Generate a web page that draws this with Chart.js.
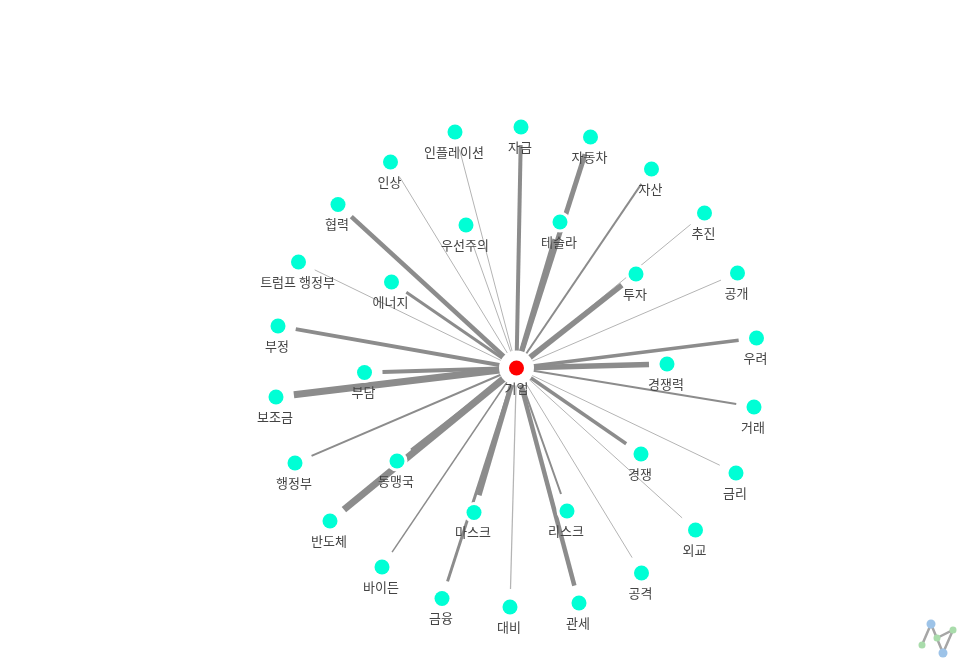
<!DOCTYPE html>
<html>
<head>
<meta charset="utf-8">
<title>기업 network</title>
<script src="https://cdn.jsdelivr.net/npm/chart.js@4/dist/chart.umd.min.js"></script>
<style>
  html, body { margin: 0; padding: 0; background: #fff; overflow: hidden; }
  canvas { display: block; }
</style>
</head>
<body>
<canvas id="networkChart" width="966" height="667"></canvas>
<script>
const centerLabel = "기업";
const centerX = 516.5;
const centerY = 368;

const nodeLabels = ["인플레이션", "자금", "자동차", "자산", "추진", "공개", "우려", "경쟁력", "거래", "금리", "경쟁", "외교", "공격", "리스크", "관세", "대비", "금융", "마스크", "바이든", "동맹국", "반도체", "행정부", "보조금", "부담", "부정", "에너지", "트럼프 행정부", "협력", "인상", "우선주의", "테슬라", "투자"];
const nodeX = [455, 521, 590.5, 651.5, 704.5, 737.5, 756.5, 667, 754, 736, 641, 695.5, 641.5, 567, 579, 510, 442, 474, 382, 397, 330, 295, 276, 364.5, 278, 391.5, 298.5, 338, 390.5, 466, 560, 636];
const nodeY = [132, 127, 137, 169, 213, 273, 338, 364, 407, 473, 454, 530, 573, 511, 603, 607, 598.5, 512.5, 567, 461, 521, 463, 397, 372.5, 326, 282, 262, 204.5, 162, 225, 222, 274];
const edgeWeights = [2, 8, 10, 4, 2, 2, 7, 11, 4, 2, 7, 2, 2, 4, 9, 2.5, 6, 10, 3, 6, 14, 4, 14, 8, 8, 6, 2, 9, 2, 2, 10, 11];

const logoX = [922, 931, 943, 953, 937];
const logoY = [645, 624, 653, 630, 638];

const EDGE_GAP = 18;

// edges stop a little before the outer node
function edgeEnd(i) {
  const dx = nodeX[i] - centerX;
  const dy = nodeY[i] - centerY;
  const len = Math.sqrt(dx * dx + dy * dy);
  return {
    x: nodeX[i] - dx / len * EDGE_GAP,
    y: nodeY[i] - dy / len * EDGE_GAP
  };
}

const allPoints = nodeX.map((x, i) => ({ x: x, y: nodeY[i] }));
const datasets = [];

datasets.push({
  label: "nodes",
  order: 0,
  data: [...allPoints, { x: centerX, y: centerY }],
  pointRadius: 7.5,
  pointBackgroundColor: ctx => ctx.dataIndex === nodeX.length ? "#ff0000" : "#00ffd5",
  pointBorderWidth: 0,
  showLine: false
});

datasets.push({
  label: "halos",
  order: 1,
  data: [...allPoints, { x: centerX, y: centerY }],
  pointRadius: ctx => ctx.dataIndex === nodeX.length ? 17.5 : 10.5,
  pointBackgroundColor: "#ffffff",
  pointBorderWidth: 0,
  showLine: false
});

nodeLabels.forEach((name, i) => {
  const thin = edgeWeights[i] <= 2.5;
  datasets.push({
    label: name,
    // thin pale edges go under the thick ones
    order: thin ? 3 : 2,
    data: [{ x: centerX, y: centerY }, edgeEnd(i)],
    showLine: true,
    borderColor: thin ? "#b4b4b4" : "#8c8c8c",
    borderWidth: edgeWeights[i] / 2,
    pointRadius: 0
  });
});

// little logo in the corner
datasets.push({
  label: "logo",
  order: 0,
  data: logoX.map((x, i) => ({ x: x, y: logoY[i] })),
  showLine: true,
  borderColor: "#a6a6a6",
  borderWidth: 2.5,
  pointRadius: ctx => ctx.dataIndex === 1 || ctx.dataIndex === 2 ? 4.5 : 3.5,
  pointBackgroundColor: ctx => ctx.dataIndex === 1 || ctx.dataIndex === 2 ? "#9dc3e8" : "#a9dcab",
  pointBorderWidth: 0
});

const nodeLabelPlugin = {
  id: "nodeLabels",
  afterDatasetsDraw(chart) {
    const c = chart.ctx;
    const sx = chart.scales.x;
    const sy = chart.scales.y;
    c.save();
    c.font = "13px 'Noto Sans CJK KR', 'Noto Sans', sans-serif";
    c.fillStyle = "#444444";
    c.textAlign = "center";
    c.textBaseline = "middle";
    nodeLabels.forEach((name, i) => {
      c.fillText(name, sx.getPixelForValue(nodeX[i]) - 1, sy.getPixelForValue(nodeY[i]) + 20);
    });
    c.fillText(centerLabel, sx.getPixelForValue(centerX), sy.getPixelForValue(centerY) + 20);
    c.restore();
  }
};

new Chart(document.getElementById("networkChart"), {
  type: "scatter",
  data: { datasets: datasets },
  options: {
    responsive: false,
    animation: false,
    layout: { padding: 0, autoPadding: false },
    plugins: {
      legend: { display: false },
      tooltip: { enabled: false }
    },
    scales: {
      x: { type: "linear", min: 0, max: 966, display: false },
      y: { type: "linear", min: 0, max: 667, reverse: true, display: false }
    }
  },
  plugins: [nodeLabelPlugin]
});
</script>
</body>
</html>
